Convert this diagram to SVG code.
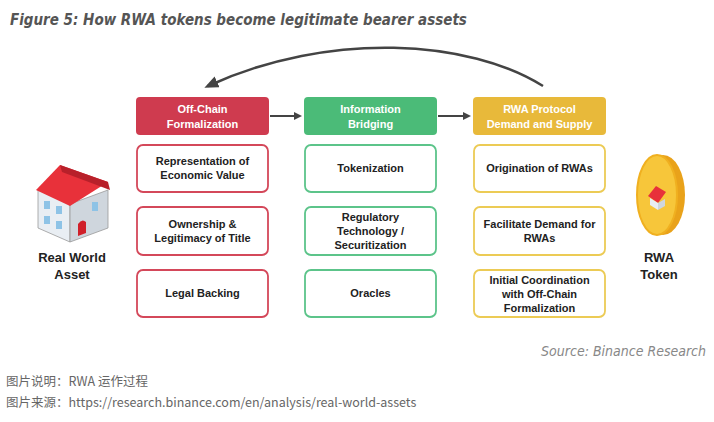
<svg xmlns="http://www.w3.org/2000/svg" width="714" height="422" viewBox="0 0 714 422">
<style>
.t{font-family:"Liberation Sans",Arial,sans-serif;font-weight:bold;font-size:11px;fill:#222;text-anchor:middle}
.h{font-family:"Liberation Sans",Arial,sans-serif;font-weight:bold;font-size:11px;fill:#fff;text-anchor:middle}
.big{font-family:"Liberation Sans",Arial,sans-serif;font-weight:bold;font-size:13px;fill:#222;text-anchor:middle}
.box{fill:#fff;stroke-width:1.8}
.r{stroke:#d4485a}.g{stroke:#5cc48a}.y{stroke:#eccb55}
.cap{font-family:"Noto Sans CJK SC","Liberation Sans",sans-serif;font-size:12.5px;fill:#666}
</style>
<defs><marker id="a" markerWidth="8" markerHeight="8" refX="6" refY="4" orient="auto" markerUnits="userSpaceOnUse"><path d="M0,0L8,4L0,8z" fill="#444"/></marker>
<marker id="b" markerWidth="14" markerHeight="12" refX="10" refY="6" orient="auto" markerUnits="userSpaceOnUse"><path d="M0,0L14,6L0,12z" fill="#444"/></marker></defs>
<rect width="714" height="422" fill="#fff"/>
<text x="10" y="25" font-family="'DejaVu Sans Condensed','Liberation Sans',sans-serif" font-style="italic" font-weight="bold" font-size="15" fill="#555">Figure 5: How RWA tokens become legitimate bearer assets</text>
<g id="connectors" stroke="#444" stroke-width="2.5" fill="none">
<path d="M543,86 C470,40 330,30 208,86" marker-end="url(#b)"/>
<path d="M270,116 L300,116" stroke-width="2" marker-end="url(#a)"/>
<path d="M438,116 L469,116" stroke-width="2" marker-end="url(#a)"/>
</g>
<g id="h1"><rect x="136" y="97" width="133" height="38" rx="4" fill="#cf3b4f"/><text class="h" x="202.5" y="113">Off-Chain</text><text class="h" x="202.5" y="128">Formalization</text></g>
<g id="h2"><rect x="304" y="97" width="133" height="38" rx="4" fill="#4bbb78"/><text class="h" x="370.5" y="113">Information</text><text class="h" x="370.5" y="128">Bridging</text></g>
<g id="h3"><rect x="473" y="97" width="133" height="38" rx="4" fill="#e8b93a"/><text class="h" x="539.5" y="113">RWA Protocol</text><text class="h" x="539.5" y="128">Demand and Supply</text></g>
<g id="r1"><rect class="box r" x="137" y="145" width="131" height="47" rx="6"/><text class="t" x="202.5" y="165">Representation of</text><text class="t" x="202.5" y="179">Economic Value</text></g>
<g id="r2"><rect class="box r" x="137" y="207" width="131" height="48" rx="6"/><text class="t" x="202.5" y="228">Ownership &amp;</text><text class="t" x="202.5" y="242">Legitimacy of Title</text></g>
<g id="r3"><rect class="box r" x="137" y="270" width="131" height="47" rx="6"/><text class="t" x="202.5" y="297">Legal Backing</text></g>
<g id="g1"><rect class="box g" x="305" y="145" width="131" height="47" rx="6"/><text class="t" x="370.5" y="172">Tokenization</text></g>
<g id="g2"><rect class="box g" x="305" y="207" width="131" height="48" rx="6"/><text class="t" x="370.5" y="221">Regulatory</text><text class="t" x="370.5" y="235">Technology /</text><text class="t" x="370.5" y="249">Securitization</text></g>
<g id="g3"><rect class="box g" x="305" y="270" width="131" height="47" rx="6"/><text class="t" x="370.5" y="297">Oracles</text></g>
<g id="y1"><rect class="box y" x="474" y="145" width="131" height="47" rx="6"/><text class="t" x="539.5" y="172">Origination of RWAs</text></g>
<g id="y2"><rect class="box y" x="474" y="207" width="131" height="48" rx="6"/><text class="t" x="539.5" y="228">Facilitate Demand for</text><text class="t" x="539.5" y="242">RWAs</text></g>
<g id="y3"><rect class="box y" x="474" y="270" width="131" height="47" rx="6"/><text class="t" x="539.5" y="284">Initial Coordination</text><text class="t" x="539.5" y="298">with Off-Chain</text><text class="t" x="539.5" y="312">Formalization</text></g>
<g id="house">
<polygon points="38,190 70,204 70,242 38,228" fill="#e9eef3" stroke="#999" stroke-width="0.8"/>
<polygon points="70,204 108,190 108,228 70,242" fill="#cfd6dd" stroke="#999" stroke-width="0.8"/>
<polygon points="36,190 60,165 108,182 70,206" fill="#e8313a"/>
<polygon points="60,165 108,182 110,190 62,172" fill="#b8202a"/>
<rect x="44" y="201" width="6" height="8" fill="#8ec3e6"/><rect x="56" y="206" width="6" height="8" fill="#8ec3e6"/>
<rect x="44" y="216" width="6" height="8" fill="#8ec3e6"/><rect x="56" y="221" width="6" height="8" fill="#8ec3e6"/>
<rect x="92" y="202" width="6" height="9" fill="#8ec3e6"/><path d="M78,236 L78,224 Q82,218 86,222 L86,233z" fill="#d0202a"/>
<text class="big" x="72" y="262">Real World</text><text class="big" x="72" y="279">Asset</text>
</g>
<g id="coin">
<ellipse cx="663" cy="195" rx="22" ry="40" fill="#e9a21a"/>
<ellipse cx="657" cy="195" rx="20" ry="40" fill="#f7c63a" stroke="#f0b020" stroke-width="2"/>
<polygon points="648,196 656,186 666,192 658,203" fill="#e8313a"/>
<polygon points="650,198 658,203 658,210 650,205" fill="#e9eef3"/><polygon points="658,203 665,199 665,206 658,210" fill="#cfd6dd"/>
<text class="big" x="659" y="262">RWA</text><text class="big" x="659" y="279">Token</text>
</g>
<text x="706" y="356" text-anchor="end" font-family="'DejaVu Sans Condensed','Liberation Sans',sans-serif" font-style="italic" font-size="14" fill="#888">Source: Binance Research</text>
<text class="cap" x="6" y="386">图片说明：RWA 运作过程</text>
<text class="cap" x="6" y="407">图片来源：https://research.binance.com/en/analysis/real-world-assets</text>
</svg>
